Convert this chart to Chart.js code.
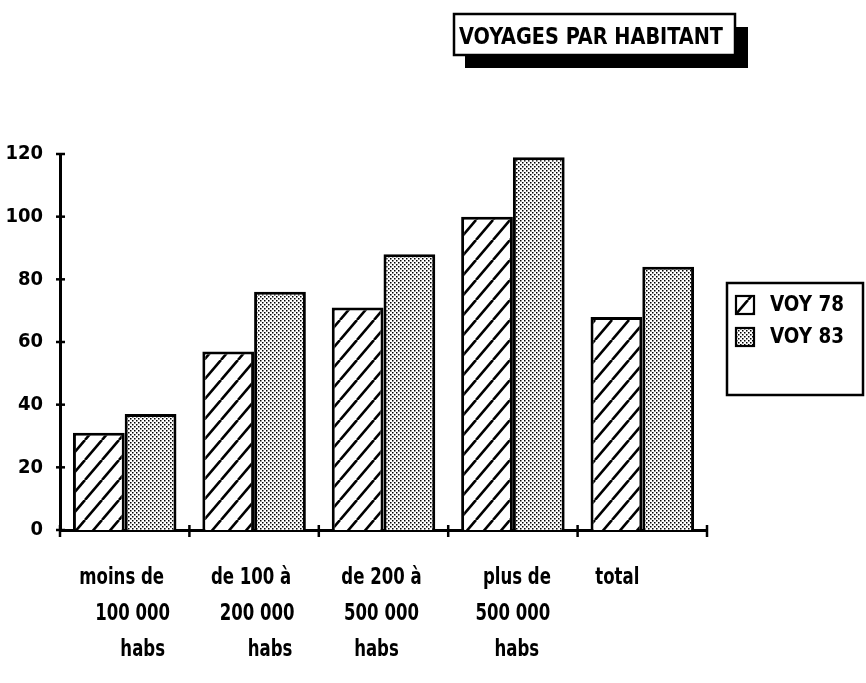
<!DOCTYPE html>
<html>
<head>
<meta charset="utf-8">
<script src="https://cdn.jsdelivr.net/npm/chart.js@4/dist/chart.umd.min.js"></script>
<style>
  html, body { margin: 0; background: #fff; }
  #wrap { width: 866px; height: 683px; }
</style>
</head>
<body>
<div id="wrap"><canvas id="voyChart" width="866" height="683"></canvas></div>
<script>
'use strict';

// ── données ───────────────────────────────────────────
const CATEGORIES = [
  ['moins de', '100 000', 'habs'],
  ['de 100 à', '200 000', 'habs'],
  ['de 200 à', '500 000', 'habs'],
  ['plus de', '500 000', 'habs'],
  ['total'],
];
const VOY78 = [31, 57, 71, 100, 68];
const VOY83 = [37, 76, 88, 119, 84];
const SERIES_NAMES = ['VOY 78', 'VOY 83'];
const Y_MIN = 0, Y_MAX = 120, Y_STEP = 20;
const TITLE = 'VOYAGES PAR HABITANT';

// décalage horizontal de chaque ligne des libellés (écriture un peu de travers)
const LABEL_SHIFT = [[-3, 8, 18], [-3, 3, 16], [-2, -2, -7], [4, 0, 4], [-25]];

const FONT = '"DejaVu Sans Condensed", "Liberation Sans", sans-serif';
const SQUEEZE = 0.8; // police étroite simulée

// texte resserré horizontalement
function narrowText(ctx, txt, x, y) {
  const w = ctx.measureText(txt).width;
  ctx.fillText(txt, x, y, w * SQUEEZE);
}

// ── motifs de remplissage ─────────────────────────────
function hatchPattern() {
  const w = 17, h = 20;
  const c = document.createElement('canvas');
  c.width = w; c.height = h;
  const g = c.getContext('2d');
  g.fillStyle = '#fff';
  g.fillRect(0, 0, w, h);
  g.strokeStyle = '#000';
  g.lineWidth = 2.6;
  for (const dx of [-w, 0, w]) {
    g.beginPath();
    g.moveTo(dx, h);
    g.lineTo(dx + w, 0);
    g.stroke();
  }
  return g.createPattern(c, 'repeat');
}

function dotPattern() {
  const c = document.createElement('canvas');
  c.width = 4; c.height = 4;
  const g = c.getContext('2d');
  g.fillStyle = '#fff';
  g.fillRect(0, 0, 4, 4);
  g.fillStyle = '#000';
  g.fillRect(0, 0, 1.5, 1.5);
  g.fillRect(2, 2, 1.5, 1.5);
  return g.createPattern(c, 'repeat');
}

const HATCH = hatchPattern();
const DOTS = dotPattern();
const FILLS = [HATCH, DOTS];

// ── petits traits en croix sur les axes ───────────────
const crossTicks = {
  id: 'crossTicks',
  afterDatasetsDraw(chart) {
    const { ctx, scales: { x, y } } = chart;
    ctx.save();
    ctx.strokeStyle = '#000';
    ctx.lineWidth = 2.5;
    for (let v = Y_MIN; v <= Y_MAX; v += Y_STEP) {
      const py = y.getPixelForValue(v);
      ctx.beginPath();
      ctx.moveTo(y.right - 4, py);
      ctx.lineTo(y.right + 5, py);
      ctx.stroke();
    }
    for (let i = 0; i <= CATEGORIES.length; i++) {
      const px = x.getPixelForValue(i - 0.5);
      ctx.beginPath();
      ctx.moveTo(px, x.top - 5);
      ctx.lineTo(px, x.top + 7);
      ctx.stroke();
    }
    ctx.restore();
  },
};

// ── libellés des catégories (plusieurs lignes) ────────
const categoryLabels = {
  id: 'categoryLabels',
  afterDraw(chart) {
    const { ctx, scales: { x } } = chart;
    ctx.save();
    ctx.fillStyle = '#000';
    ctx.font = 'bold 23px ' + FONT;
    ctx.textAlign = 'center';
    ctx.textBaseline = 'middle';
    CATEGORIES.forEach((lines, i) => {
      const cx = x.getPixelForValue(i);
      lines.forEach((txt, j) => {
        narrowText(ctx, txt, cx + LABEL_SHIFT[i][j], x.top + 48 + j * 36);
      });
    });
    ctx.restore();
  },
};

// ── cadre du titre avec ombre portée ──────────────────
const titleBox = {
  id: 'titleBox',
  afterDraw(chart) {
    const ctx = chart.ctx;
    ctx.save();
    ctx.fillStyle = '#000';
    ctx.fillRect(465, 27, 283, 41);
    ctx.fillStyle = '#fff';
    ctx.fillRect(454, 14, 281, 41);
    ctx.strokeStyle = '#000';
    ctx.lineWidth = 2.5;
    ctx.strokeRect(454, 14, 281, 41);
    ctx.fillStyle = '#000';
    ctx.font = 'bold 23px ' + FONT;
    ctx.textAlign = 'left';
    ctx.textBaseline = 'middle';
    ctx.fillText(TITLE, 459, 38, 264);
    ctx.restore();
  },
};

// ── légende encadrée ──────────────────────────────────
const boxLegend = {
  id: 'boxLegend',
  afterDraw(chart) {
    const ctx = chart.ctx;
    ctx.save();
    ctx.strokeStyle = '#000';
    ctx.lineWidth = 2.5;
    ctx.fillStyle = '#fff';
    ctx.fillRect(727, 283, 136, 112);
    ctx.strokeRect(727, 283, 136, 112);
    ctx.font = 'bold 22px ' + FONT;
    ctx.textAlign = 'left';
    ctx.textBaseline = 'middle';
    SERIES_NAMES.forEach((name, i) => {
      const yy = 305 + i * 32;
      ctx.fillStyle = FILLS[i];
      ctx.fillRect(736, yy - 9, 18, 18);
      ctx.lineWidth = 2.2;
      ctx.strokeRect(736, yy - 9, 18, 18);
      ctx.fillStyle = '#000';
      ctx.fillText(name, 770, yy, 74);
    });
    ctx.restore();
  },
};

new Chart(document.getElementById('voyChart'), {
  type: 'bar',
  data: {
    labels: CATEGORIES,
    datasets: [
      { label: SERIES_NAMES[0], data: VOY78, backgroundColor: HATCH },
      { label: SERIES_NAMES[1], data: VOY83, backgroundColor: DOTS },
    ].map(ds => Object.assign(ds, {
      borderColor: '#000',
      borderWidth: 3,
      categoryPercentage: 0.8,
      barPercentage: 1.0,
    })),
  },
  options: {
    responsive: false,
    devicePixelRatio: 1,
    animation: false,
    layout: { padding: { top: 154, right: 159, bottom: 153, left: 0 } },
    plugins: {
      legend: { display: false },
      title: { display: false },
      tooltip: { enabled: false },
    },
    scales: {
      x: {
        grid: { display: false },
        border: { display: true, color: '#000', width: 3 },
        ticks: { display: false },
        afterFit: s => { s.height = 0; },
      },
      y: {
        min: Y_MIN,
        max: Y_MAX,
        grid: { display: false },
        border: { display: true, color: '#000', width: 3 },
        ticks: {
          stepSize: Y_STEP,
          color: '#000',
          padding: 9,
          font: { family: FONT, size: 20, weight: 'bold' },
        },
        afterFit: s => { s.width = 60; },
      },
    },
  },
  plugins: [crossTicks, categoryLabels, titleBox, boxLegend],
});
</script>
</body>
</html>
